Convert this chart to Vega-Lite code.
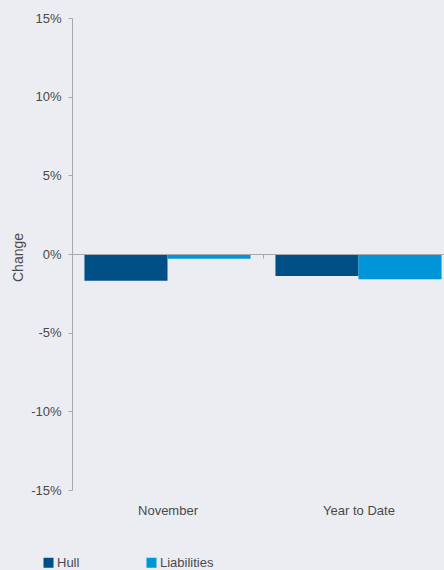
{
  "$schema": "https://vega.github.io/schema/vega-lite/v6.json",
  "autosize": {"type": "none"},
  "padding": {"left": 72, "top": 18, "right": 0, "bottom": 80},
  "width": 372,
  "height": 472,
  "background": "#ECEDF2",
  "config": {
    "view": {"stroke": null},
    "font": "Liberation Sans",
    "axis": {"labelFont": "Liberation Sans", "titleFont": "Liberation Sans", "labelColor": "#4A4A4A", "titleColor": "#4A4A4A", "labelFontSize": 13, "titleFontSize": 14, "titleFontWeight": "normal"},
    "legend": {"labelFont": "Liberation Sans", "labelColor": "#4A4A4A", "labelFontSize": 13}
  },
  "data": {
    "values": [
      {"period": "November", "series": "Hull", "change": -1.7},
      {"period": "November", "series": "Liabilities", "change": -0.3},
      {"period": "Year to Date", "series": "Hull", "change": -1.4},
      {"period": "Year to Date", "series": "Liabilities", "change": -1.6}
    ]
  },
  "mark": {"type": "bar"},
  "encoding": {
    "x": {
      "field": "period",
      "type": "nominal",
      "sort": null,
      "scale": {"paddingInner": 0, "paddingOuter": 0, "range": [0, 382]},
      "axis": {
        "title": null,
        "labelAngle": 0,
        "offset": -236,
        "domainColor": "#A8A8A8",
        "tickColor": "#A8A8A8",
        "tickSize": 4,
        "tickBand": "extent",
        "labelPadding": 246,
        "zindex": 1
      }
    },
    "xOffset": {
      "field": "series",
      "type": "nominal",
      "scale": {"paddingInner": 0, "paddingOuter": 0.15}
    },
    "y": {
      "field": "change",
      "type": "quantitative",
      "scale": {"domain": [-15, 15], "nice": false},
      "axis": {
        "title": "Change",
        "values": [-15, -10, -5, 0, 5, 10, 15],
        "labelExpr": "datum.value + '%'",
        "grid": false,
        "domainColor": "#A8A8A8",
        "tickColor": "#A8A8A8",
        "tickSize": 4,
        "labelPadding": 7,
        "titleX": -54,
        "titleY": 239,
        "titleAngle": -90,
        "titleAlign": "center",
        "titleBaseline": "middle"
      }
    },
    "color": {
      "field": "series",
      "type": "nominal",
      "scale": {"domain": ["Hull", "Liabilities"], "range": ["#004F86", "#0094D8"]},
      "legend": {
        "title": null,
        "orient": "none",
        "direction": "horizontal",
        "legendX": -30,
        "legendY": 538,
        "symbolType": "square",
        "symbolSize": 100,
        "symbolStrokeWidth": 0,
        "labelOffset": 2,
        "columnPadding": 65
      }
    }
  }
}
